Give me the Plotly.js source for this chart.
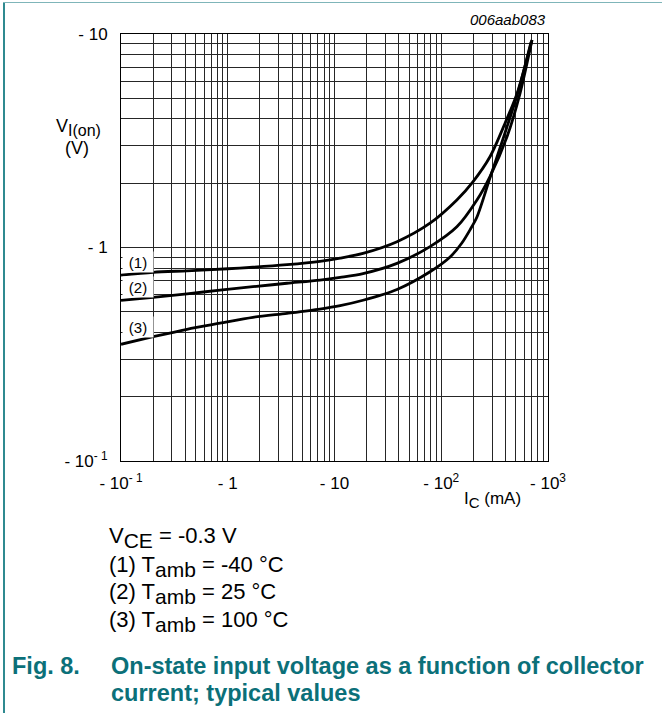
<!DOCTYPE html>
<html>
<head>
<meta charset="utf-8">
<script src="https://cdn.plot.ly/plotly-3.0.1.min.js"></script>
<style>
  html, body { margin: 0; padding: 0; background: #fff; }
  #wrap { position: relative; width: 662px; height: 713px; overflow: hidden; }
  #chart { position: absolute; left: 0; top: 0; width: 662px; height: 713px; }
  .bl { position: absolute; left: 3px; top: 2px; width: 2px; height: 711px; background: #2f8a90; }
  .bt { position: absolute; left: 3px; top: 2px; width: 659px; height: 1px; background: #7fb5b9; }
</style>
</head>
<body>
<div id="wrap">
  <div id="chart"></div>
  <div class="bl"></div>
  <div class="bt"></div>
</div>
<script>
// |I_C| (mA) and |V_I(on)| (V)
const ic1 = [0.1, 0.2, 0.415, 1.0, 1.72, 3.59, 7.31, 11.3, 18.5, 38.5, 78.5, 140, 198, 286, 396, 513, 708];
const vi1 = [0.743, 0.765, 0.778, 0.795, 0.808, 0.831, 0.862, 0.892, 0.939, 1.065, 1.30, 1.67, 2.03, 2.66, 3.82, 5.27, 9.37];

const ic2 = [0.1, 0.2, 0.415, 0.846, 1.72, 3.59, 7.31, 11.3, 18.5, 38.5, 78.5, 140, 216, 286, 413, 547, 708];
const vi2 = [0.565, 0.584, 0.606, 0.632, 0.655, 0.680, 0.704, 0.725, 0.755, 0.843, 1.01, 1.25, 1.67, 2.15, 3.30, 5.27, 9.37];

const ic3 = [0.1, 0.2, 0.415, 0.846, 1.72, 3.59, 7.31, 11.3, 18.5, 38.5, 78.5, 121, 156, 186, 216, 286, 387, 524, 693];
const vi3 = [0.352, 0.382, 0.414, 0.442, 0.471, 0.492, 0.515, 0.534, 0.566, 0.636, 0.770, 0.903, 1.05, 1.21, 1.39, 2.12, 3.33, 5.35, 9.17];

const curveLabels = ["(1)", "(2)", "(3)"];
const xTickVals = [0.1, 1, 10, 100, 1000];
const xTickText = ["- 10<sup>- 1</sup>", "- 1", "- 10", "- 10<sup>2</sup>", "- 10<sup>3</sup>"];
const yTickVals = [0.1, 1, 10];
const yTickText = ["- 10<sup>- 1</sup>", "- 1", "- 10"];

// minor grid positions (2..9 in each decade)
function minors(lo, hi) {
  const out = [];
  for (let e = lo; e < hi; e++) for (let d = 2; d <= 9; d++) out.push(d * Math.pow(10, e));
  return out;
}

const FONT = "Liberation Sans, Arial, sans-serif";
const L = 121, R = 548, T = 34, B = 461;
const W = R - L, H = B - T;
const px = x => (x - L) / W;
const py = y => (B - y) / H;

const lineStyle = {color: "#000", width: 2.8, shape: "spline", smoothing: 0.8};
const traces = [
  {x: ic1, y: vi1, mode: "lines", line: lineStyle, hoverinfo: "skip"},
  {x: ic2, y: vi2, mode: "lines", line: lineStyle, hoverinfo: "skip"},
  {x: ic3, y: vi3, mode: "lines", line: lineStyle, hoverinfo: "skip"}
];

const gridC = "#262626";
const sub = (t, s) => `<sub><span style="font-size:${s}px">${t}</span></sub>`;

const ann = [];
function addText(text, x, y, opts) {
  ann.push(Object.assign({
    text: text, xref: "paper", yref: "paper", x: px(x), y: py(y),
    showarrow: false, xanchor: "left", yanchor: "middle",
    font: {family: FONT, size: 16, color: "#000"}
  }, opts || {}));
}

// code label
addText("<i>006aab083</i>", 548, 20, {xanchor: "right", font: {family: FONT, size: 15, color: "#000"}});
// y title
addText("V" + sub("I(on)", 16), 78, 127, {xanchor: "center", font: {family: FONT, size: 18, color: "#000"}});
addText("(V)", 77, 148, {xanchor: "center", font: {family: FONT, size: 18, color: "#000"}});
// x title
addText("I" + sub("C", 15) + " (mA)", 492, 500, {xanchor: "center", font: {family: FONT, size: 17, color: "#000"}});
// curve labels
const labelY = [262, 287, 327];
curveLabels.forEach((t, i) => {
  addText(t, 138, labelY[i], {xanchor: "center", bgcolor: "#fff", width: 28, height: 18,
    font: {family: FONT, size: 15, color: "#000"}});
});
// conditions block
const condFont = {family: FONT, size: 22, color: "#000"};
addText("V" + sub("CE", 21) + " = -0.3 V", 107, 537, {font: condFont});
addText("(1) T" + sub("amb", 21) + " = -40 °C", 107, 566, {font: condFont});
addText("(2) T" + sub("amb", 21) + " = 25 °C", 107, 593, {font: condFont});
addText("(3) T" + sub("amb", 21) + " = 100 °C", 107, 621, {font: condFont});
// caption
const capFont = {family: FONT, size: 23.5, color: "#0b7079"};
addText("<b>Fig. 8.</b>", 10, 666, {font: capFont});
addText("<b>On-state input voltage as a function of collector</b>", 109, 666, {font: capFont});
addText("<b>current; typical values</b>", 109, 693, {font: capFont});

const axisCommon = {
  type: "log", showline: true, linecolor: "#000", linewidth: 1, mirror: true,
  showgrid: true, gridcolor: gridC, gridwidth: 1, zeroline: false,
  ticks: "", tickmode: "array",
  tickfont: {family: FONT, size: 17, color: "#000"}
};

const layout = {
  width: 662, height: 713,
  margin: {l: L, r: 662 - R, t: T, b: 713 - B, pad: 0},
  paper_bgcolor: "#fff", plot_bgcolor: "#fff",
  showlegend: false,
  xaxis: Object.assign({}, axisCommon, {
    range: [-1, 3], tickvals: xTickVals, ticktext: xTickText, ticklabelstandoff: 7,
    minor: {tickmode: "array", tickvals: minors(-1, 3), showgrid: true, gridcolor: gridC, gridwidth: 1, ticks: ""}
  }),
  yaxis: Object.assign({}, axisCommon, {
    range: [-1, 1], tickvals: yTickVals, ticktext: yTickText, ticklabelstandoff: 9,
    minor: {tickmode: "array", tickvals: minors(-1, 1), showgrid: true, gridcolor: gridC, gridwidth: 1, ticks: ""}
  }),
  annotations: ann
};

Plotly.newPlot("chart", traces, layout, {staticPlot: true, displayModeBar: false});
</script>
</body>
</html>
